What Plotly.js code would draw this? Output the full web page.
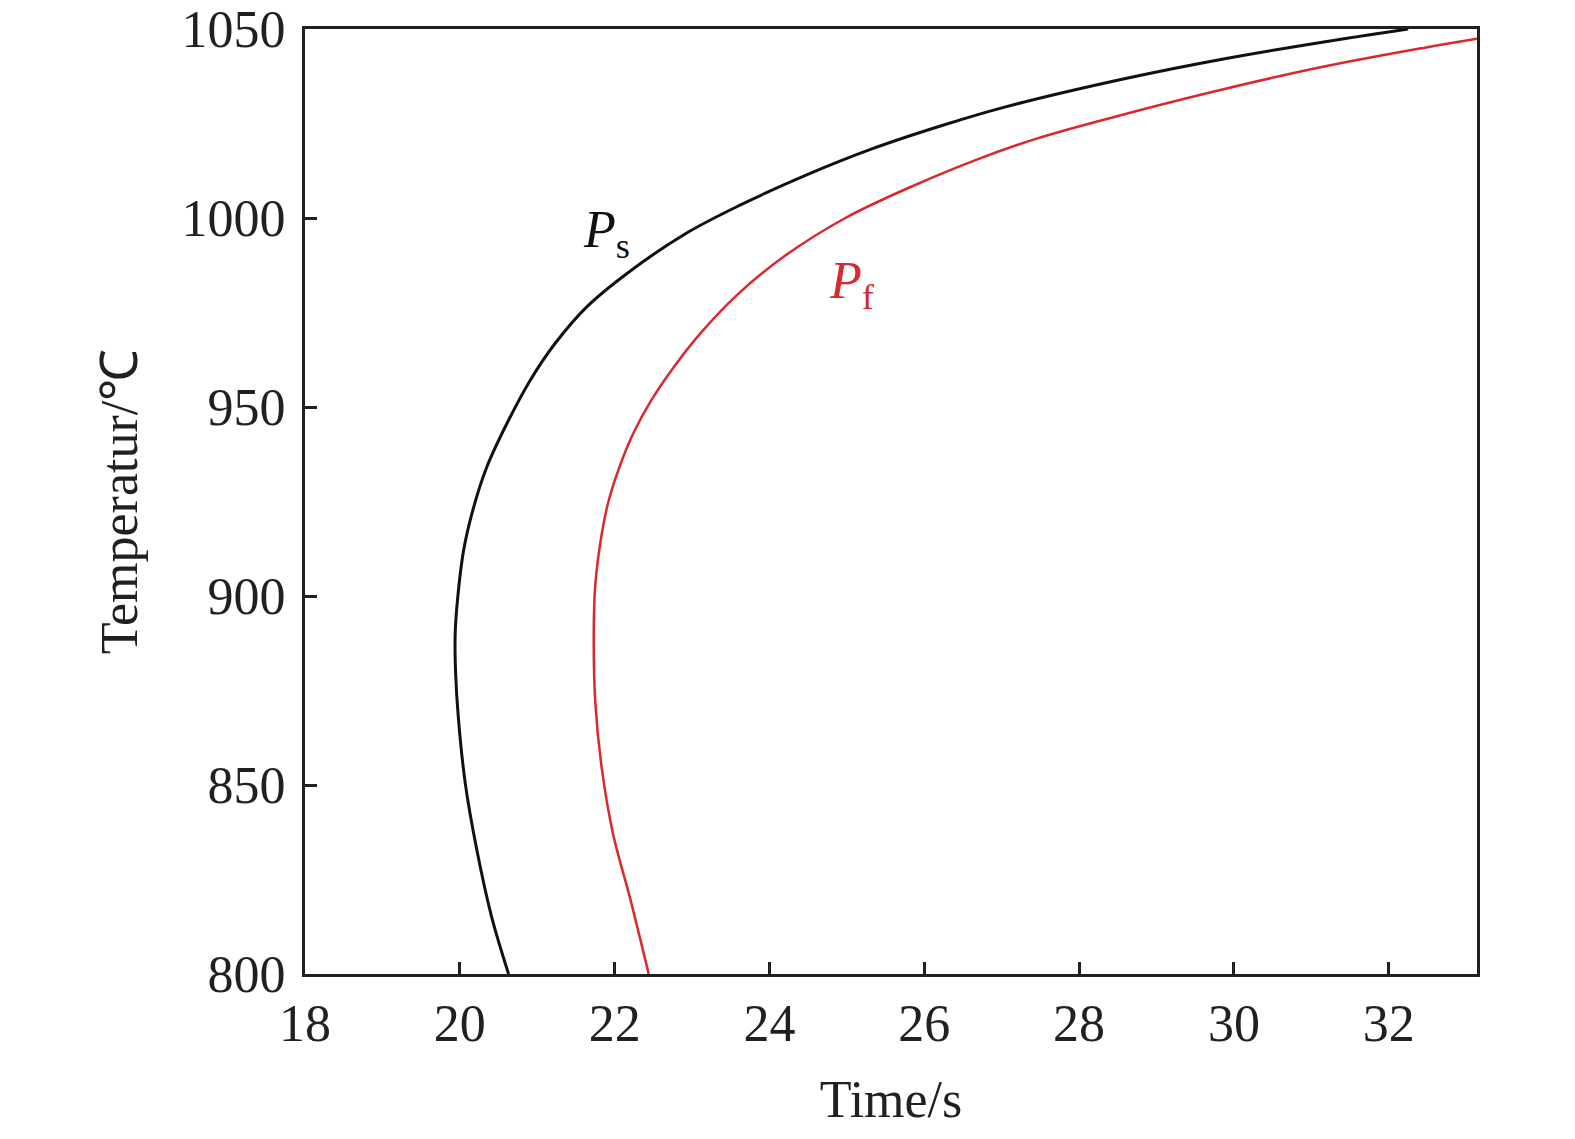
<!DOCTYPE html>
<html>
<head>
<meta charset="utf-8">
<script src="https://cdn.plot.ly/plotly-3.0.1.min.js"></script>
<style>html,body{margin:0;padding:0;background:#fff;}#chart{width:1575px;height:1139px;}</style>
</head>
<body>
<div id="chart"></div>
<script>
const psTemp = [800, 815.2, 832.8, 850.5, 868.1, 880, 890, 899, 912.2, 923.6, 934.2, 945.7, 957.1, 966.8, 976.5, 985.8, 995.9, 1003.4, 1011.4, 1018.4, 1024.6, 1029.4, 1036.9, 1042.2, 1046.7, 1050];
const psTime = [20.63, 20.41, 20.22, 20.07, 19.98, 19.945, 19.94, 19.97, 20.05, 20.18, 20.35, 20.61, 20.91, 21.23, 21.64, 22.19, 22.92, 23.62, 24.48, 25.34, 26.25, 27.05, 28.60, 29.90, 31.20, 32.25];
const pfTemp = [800, 820, 837, 855, 872, 890, 903, 916, 925, 934, 943, 952, 961, 970, 980, 990, 1000, 1008, 1015, 1021, 1027, 1034, 1040, 1045, 1047.4];
const pfTime = [22.44, 22.20, 21.98, 21.83, 21.75, 21.73, 21.75, 21.83, 21.92, 22.06, 22.24, 22.48, 22.78, 23.13, 23.60, 24.20, 24.98, 25.80, 26.62, 27.45, 28.50, 29.85, 31.15, 32.45, 33.14];
const xTicks = [18, 20, 22, 24, 26, 28, 30, 32];
const yTicks = [800, 850, 900, 950, 1000, 1050];

const fontFam = '"Liberation Serif", "Times New Roman", serif';
const black = '#111111';
const red = '#d9282e';

const traces = [
  {x: psTime, y: psTemp, mode: 'lines', line: {color: black, width: 3, shape: 'spline', smoothing: 1}, showlegend: false, hoverinfo: 'skip'},
  {x: pfTime, y: pfTemp, mode: 'lines', line: {color: red, width: 2.5, shape: 'spline', smoothing: 1}, showlegend: false, hoverinfo: 'skip'}
];

const axisCommon = {
  showgrid: false, zeroline: false, showline: true, linecolor: '#231f20', linewidth: 3,
  mirror: true, ticks: 'inside', ticklen: 12, tickwidth: 3, tickcolor: '#231f20',
  tickfont: {family: fontFam, size: 52, color: '#231f20'}
};

const layout = {
  width: 1575, height: 1139,
  margin: {l: 305, r: 98, t: 29, b: 165},
  paper_bgcolor: '#fff', plot_bgcolor: '#fff',
  font: {family: fontFam, color: '#231f20'},
  xaxis: Object.assign({}, axisCommon, {
    range: [18, 33.14], tickvals: xTicks, ticktext: xTicks.map(String),
    ticklabelstandoff: 2,
    title: {text: 'Time/s', font: {family: fontFam, size: 52, color: '#231f20'}, standoff: 30}
  }),
  yaxis: Object.assign({}, axisCommon, {
    range: [800, 1050], tickvals: yTicks, ticktext: yTicks.map(String),
    ticklabelstandoff: 6,
    title: {text: 'Temperatur/℃', font: {family: fontFam, size: 52, color: '#231f20'}, standoff: 28}
  }),
  annotations: [
    {x: 21.9, y: 996, xref: 'x', yref: 'y', text: '<i>P</i><sub>s</sub>', showarrow: false,
     font: {family: fontFam, size: 52, color: black}},
    {x: 25.07, y: 982.5, xref: 'x', yref: 'y', text: '<i>P</i><sub>f</sub>', showarrow: false,
     font: {family: fontFam, size: 52, color: red}}
  ]
};

Plotly.newPlot('chart', traces, layout, {staticPlot: true, displayModeBar: false});
</script>
</body>
</html>
